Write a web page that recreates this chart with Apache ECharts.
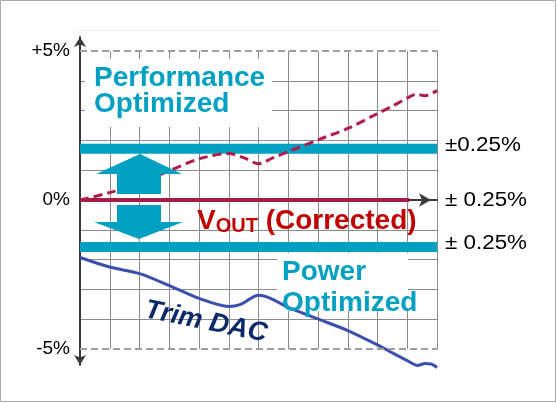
<!DOCTYPE html>
<html><head><meta charset="utf-8">
<script src="https://cdn.jsdelivr.net/npm/echarts@6/dist/echarts.min.js"></script>
<style>html,body{margin:0;padding:0;background:#fff}#c{width:557px;height:403px}</style>
</head><body><div id="c"></div>
<script>
// ---- data (percent deviation vs. time step) ----
const xPerf = [0, 1, 2, 3, 4, 5, 5.5, 6, 6.5, 7, 8, 9, 10, 10.5, 11, 11.3, 11.6, 12];
const yPerf = [0, 0.25, 0.58, 0.98, 1.38, 1.56, 1.42, 1.22, 1.42, 1.62, 2.02, 2.4, 2.9, 3.15, 3.42, 3.55, 3.5, 3.67];
const xTrim = [0, 1, 2, 3, 4, 5, 5.4, 6, 6.4, 7, 8, 9, 10, 10.5, 11, 11.35, 11.6, 11.8, 12];
const yTrim = [-1.93, -2.25, -2.47, -2.87, -3.3, -3.57, -3.5, -3.2, -3.3, -3.6, -3.99, -4.38, -4.86, -5.13, -5.39, -5.55, -5.49, -5.5, -5.62];
const bandLevels = [1.72, -1.58];
const bandX = [0, 12];
const voutX = [0, 11.07];
const voutY = [0, 0];
const yTickValues = [5, 0, -5];
const yTickLabels = ['+5%', '0%', '-5%'];
const rightLabels = ['±0.25%', '± 0.25%', '± 0.25%'];

const FF = "'Liberation Sans', Arial, sans-serif";
const CYAN = '#00a0c3';
const zip = (xs, ys) => xs.map((x, i) => [x, ys[i]]);

const chart = echarts.init(document.getElementById('c'), null, {renderer: 'canvas'});
const option = {
  animation: false,
  backgroundColor: '#fff',
  grid: [
    {left: 80, right: 120, top: 51, bottom: 54},
    {left: 80, right: 120, top: 37, bottom: 38}
  ],
  xAxis: [
    {type: 'value', gridIndex: 0, min: 0, max: 12, interval: 1,
     axisLine: {show: true, onZero: true, symbol: ['none', 'arrow'], symbolSize: [10, 12], symbolOffset: [0, -6],
                lineStyle: {color: '#3a3a3a', width: 2}},
     axisTick: {show: false}, axisLabel: {show: false},
     splitLine: {show: true, lineStyle: {color: '#8c8c8c', width: 1}}},
    {type: 'value', gridIndex: 1, min: 0, max: 1, show: false}
  ],
  yAxis: [
    {type: 'value', gridIndex: 0, min: -5, max: 5, interval: 1,
     axisLine: {show: false}, axisTick: {show: false},
     axisLabel: {show: true, margin: 10, fontSize: 19, color: '#000', fontFamily: FF,
                 formatter: v => { const i = yTickValues.indexOf(v); return i >= 0 ? yTickLabels[i] : ''; }},
     splitLine: {show: true, showMinLine: false, showMaxLine: false, lineStyle: {color: '#8c8c8c', width: 1}}},
    {type: 'value', gridIndex: 1, min: 0, max: 1,
     axisLine: {show: true, symbol: ['arrow', 'arrow'], symbolSize: [9, 10], lineStyle: {color: '#3a3a3a', width: 2}},
     axisTick: {show: false}, axisLabel: {show: false}, splitLine: {show: false}}
  ],
  series: [
    {type: 'line', name: 'Performance band', data: zip(bandX, [bandLevels[0], bandLevels[0]]),
     symbol: 'none', lineStyle: {color: CYAN, width: 10, cap: 'butt'},
     markLine: {silent: true, symbol: 'none', label: {show: false},
                lineStyle: {color: '#9e9e9e', type: [7, 4], width: 2},
                data: [{yAxis: 5}, {yAxis: -5}]}},
    {type: 'line', name: 'Power band', data: zip(bandX, [bandLevels[1], bandLevels[1]]),
     symbol: 'none', lineStyle: {color: CYAN, width: 10, cap: 'butt'}},
    {type: 'line', name: 'VOUT', data: zip(voutX, voutY), symbol: 'none',
     lineStyle: {color: '#a51d45', width: 4, cap: 'butt'}},
    {type: 'line', name: 'Performance', data: zip(xPerf, yPerf), symbol: 'none', smooth: 0.3,
     lineStyle: {color: '#b01d4c', width: 3, type: [9, 5]}},
    {type: 'line', name: 'Trim DAC', data: zip(xTrim, yTrim), symbol: 'none', smooth: 0.3, clip: false,
     lineStyle: {color: '#3d4fae', width: 3}}
  ],
  graphic: [
    {type: 'line', z: 1, shape: {x1: 73, y1: 30.5, x2: 441, y2: 30.5}, style: {stroke: '#f1f1f1', lineWidth: 1}},
    {type: 'rect', z: 3, shape: {x: 85, y: 59, width: 187, height: 68}, style: {fill: '#fff'}},
    {type: 'rect', z: 3, shape: {x: 277, y: 253, width: 131, height: 58}, style: {fill: '#fff'}},
    {type: 'polygon', z: 5, shape: {points: [[140,154],[182,174],[161,174],[161,194],[117,194],[117,174],[96,174]]}, style: {fill: CYAN}},
    {type: 'polygon', z: 5, shape: {points: [[117,205],[161,205],[161,222],[183,222],[139,239],[94,222],[117,222]]}, style: {fill: CYAN}},
    {type: 'text', z: 6, x: 94, y: 78.5, style: {text: 'Performance', fill: CYAN, font: "bold 28px 'Liberation Sans'", align: 'left', verticalAlign: 'middle'}},
    {type: 'text', z: 6, x: 94, y: 104.5, style: {text: 'Optimized', fill: CYAN, font: "bold 28px 'Liberation Sans'", align: 'left', verticalAlign: 'middle'}},
    {type: 'text', z: 6, x: 282, y: 272.5, style: {text: 'Power', fill: CYAN, font: "bold 28px 'Liberation Sans'", align: 'left', verticalAlign: 'middle'}},
    {type: 'text', z: 6, x: 282, y: 303.5, style: {text: 'Optimized', fill: CYAN, font: "bold 28px 'Liberation Sans'", align: 'left', verticalAlign: 'middle'}},
    {type: 'text', z: 6, x: 197, y: 206, style: {text: '{v|V}{s|OUT}{v| (Corrected)}', align: 'left', verticalAlign: 'top',
      rich: {v: {fontSize: 28, fontWeight: 'bold', fontFamily: 'Liberation Sans', fill: '#c00000', lineHeight: 30},
             s: {fontSize: 20, fontWeight: 'bold', fontFamily: 'Liberation Sans', fill: '#c00000', lineHeight: 9, verticalAlign: 'bottom'}}}},
    {type: 'text', z: 6, x: 206, y: 322, rotation: -0.2, style: {text: 'Trim DAC', fill: '#0c2a6a', font: "italic bold 27px 'Liberation Sans'", align: 'center', verticalAlign: 'middle'}},
    {type: 'text', z: 6, x: 445, y: 145, scaleX: 1.12, style: {text: rightLabels[0], fill: '#000', font: "20px 'Liberation Sans'", align: 'left', verticalAlign: 'middle'}},
    {type: 'text', z: 6, x: 445, y: 200, scaleX: 1.12, style: {text: rightLabels[1], fill: '#000', font: "20px 'Liberation Sans'", align: 'left', verticalAlign: 'middle'}},
    {type: 'text', z: 6, x: 445, y: 243, scaleX: 1.12, style: {text: rightLabels[2], fill: '#000', font: "20px 'Liberation Sans'", align: 'left', verticalAlign: 'middle'}},
    {type: 'rect', z: 10, shape: {x: 0.5, y: 0.5, width: 555, height: 401}, style: {fill: 'none', stroke: '#aaaaaa', lineWidth: 1}}
  ]
};
chart.setOption(option);
</script></body></html>
